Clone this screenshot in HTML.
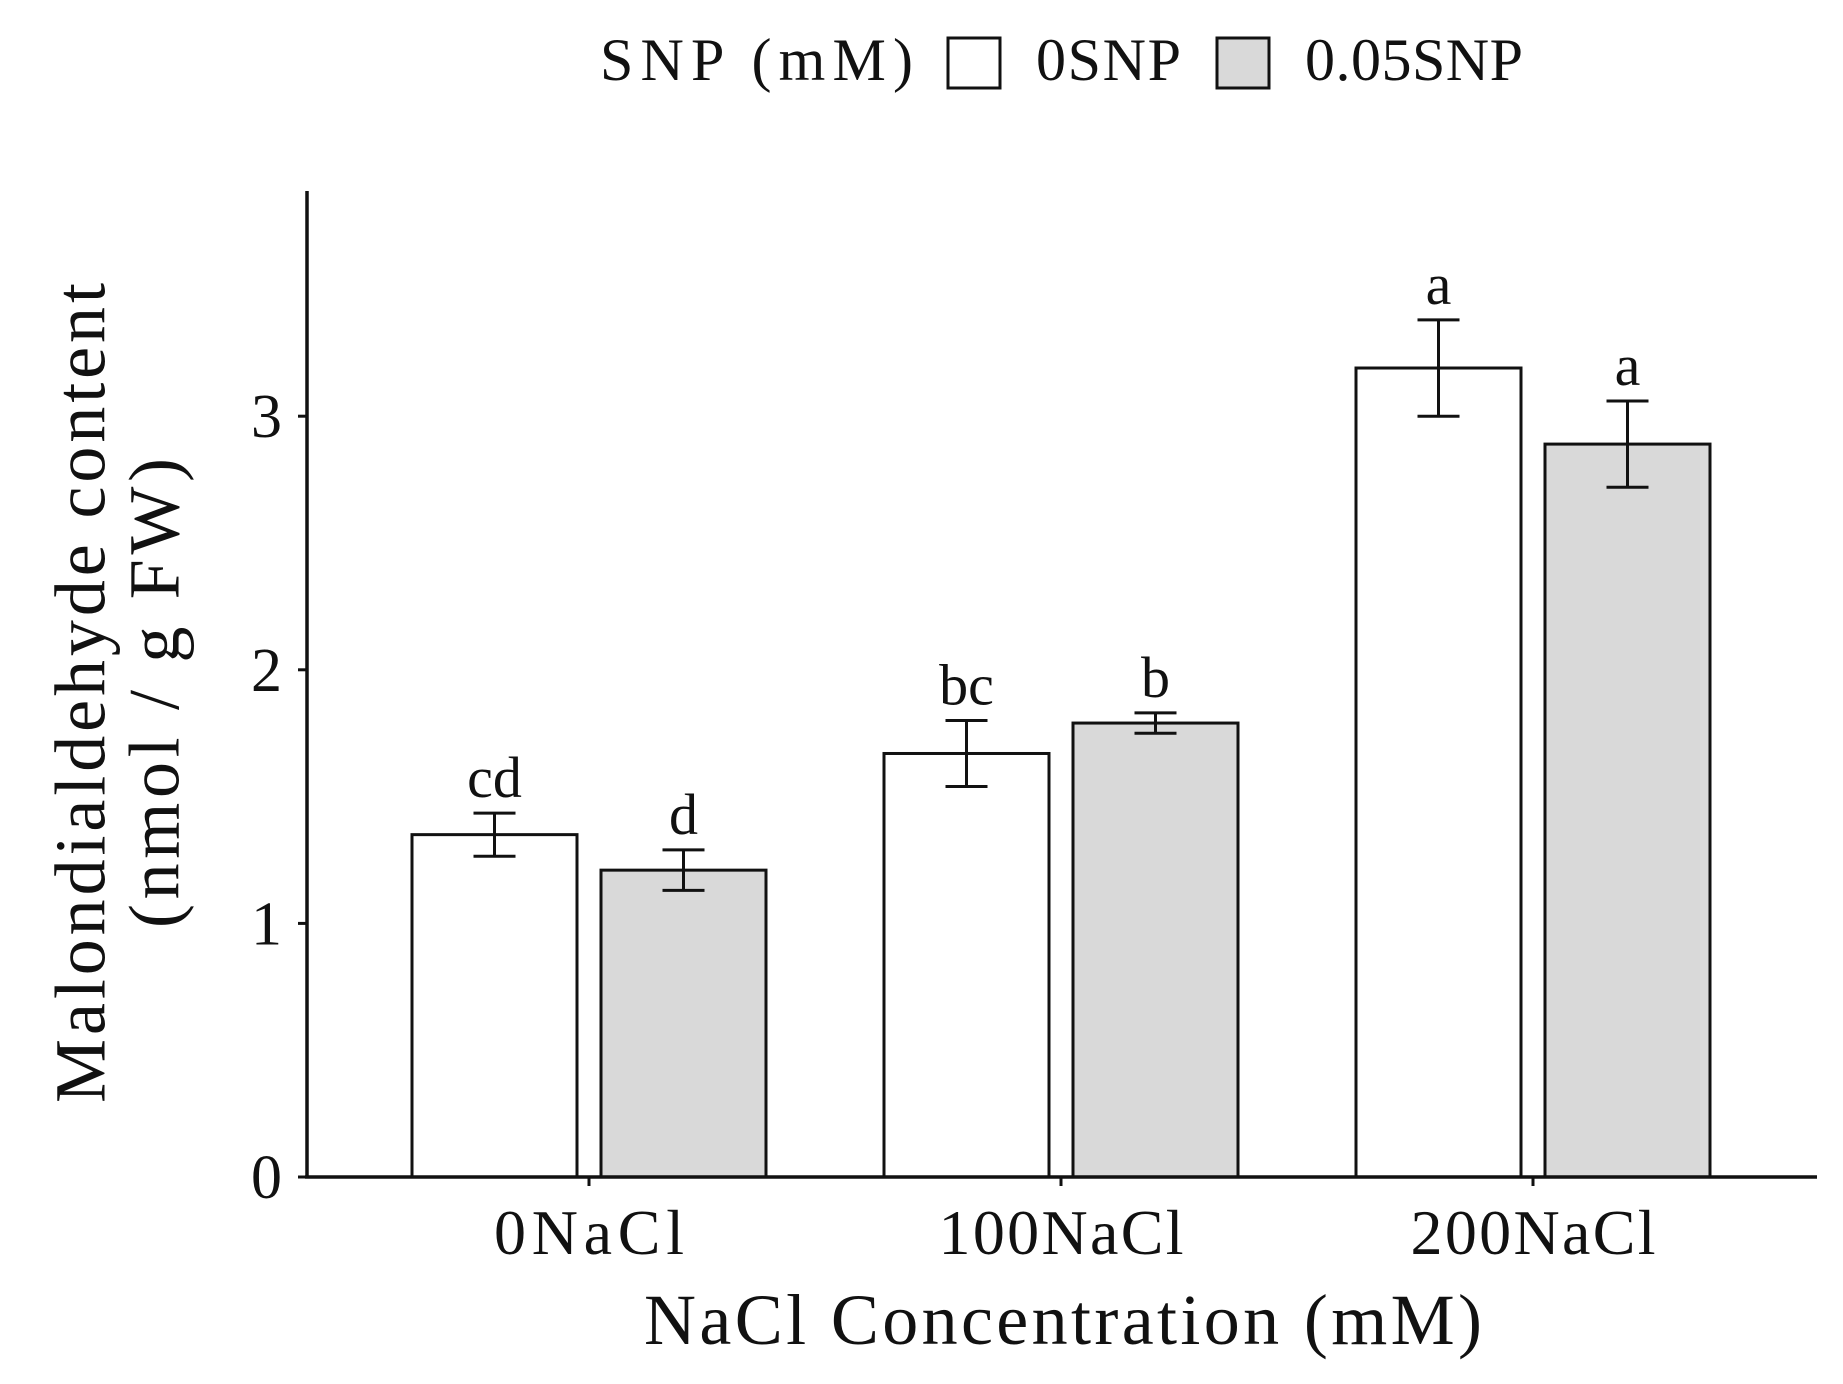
<!DOCTYPE html>
<html><head><meta charset="utf-8"><style>
html,body{margin:0;padding:0;background:#fff;}
svg text{font-family:"Liberation Serif",serif;fill:#111;}
</style></head><body>
<svg id="chart" width="1843" height="1379" viewBox="0 0 1843 1379" xmlns="http://www.w3.org/2000/svg">
<g>
<text x="600" y="80" font-size="60" textLength="313">SNP (mM)</text>
<rect x="948" y="38" width="52" height="50" fill="#fff" stroke="#111" stroke-width="3"/>
<text x="1036" y="80" font-size="60" textLength="145">0SNP</text>
<rect x="1217" y="38" width="52" height="50" fill="#d9d9d9" stroke="#111" stroke-width="3"/>
<text x="1305" y="80" font-size="60" textLength="218">0.05SNP</text>
</g>
<g id="plot"></g>
<text x="1063" y="1344" font-size="72" text-anchor="middle" textLength="838">NaCl Concentration (mM)</text>
<text transform="translate(88,693) rotate(-90)" font-size="72" text-anchor="middle" dominant-baseline="middle" textLength="820">Malondialdehyde content</text>
<text transform="translate(162,693) rotate(-90)" font-size="72" text-anchor="middle" dominant-baseline="middle" textLength="470">(nmol / g FW)</text>
</svg>
<script>
const categories = ["0NaCl","100NaCl","200NaCl"];
const seriesNames = ["0SNP","0.05SNP"];
const values0SNP = [1.35,1.67,3.19];
const values005SNP = [1.21,1.79,2.89];
const err0SNP = [0.085,0.13,0.19];
const err005SNP = [0.08,0.04,0.17];
const letters0SNP = ["cd","bc","a"];
const letters005SNP = ["d","b","a"];
const yTicks = [0,1,2,3];

const NS = "http://www.w3.org/2000/svg";
const g = document.getElementById("plot");
const x0 = 307, x1 = 1817, yBase = 1177, yTop = 191, perUnit = 253.6;
const y = v => yBase - v * perUnit;
const catX = i => 589 + i * 472;
const barW = 165, gap = 24;
function mk(tag, attrs){const e=document.createElementNS(NS,tag);for(const k in attrs)e.setAttribute(k,attrs[k]);g.appendChild(e);return e;}

const series = [
 {vals: values0SNP, err: err0SNP, let: letters0SNP, fill: "#fff", off: -gap/2 - barW},
 {vals: values005SNP, err: err005SNP, let: letters005SNP, fill: "#d9d9d9", off: gap/2}
];
series.forEach((s, si) => {
  categories.forEach((c, i) => {
    const bx = catX(i) + s.off;
    const r = mk("rect", {x: bx, y: y(s.vals[i]), width: barW, height: yBase - y(s.vals[i]), fill: s.fill, stroke: "#111", "stroke-width": 3});
    
    
    const cx = bx + barW / 2, hi = y(s.vals[i] + s.err[i]), lo = y(s.vals[i] - s.err[i]);
    const eb = mk("path", {d: `M${cx-21},${hi}H${cx+21}M${cx},${hi}V${lo}M${cx-21},${lo}H${cx+21}`, stroke: "#111", "stroke-width": 3, fill: "none"});
    
    
    const t = mk("text", {x: cx, y: hi - 16, "font-size": 58, "text-anchor": "middle"});
    t.textContent = s.let[i];
    
    
  });
});

const ax = mk("line", {x1: x0, y1: yTop, x2: x0, y2: yBase, stroke: "#111", "stroke-width": 3.5});


const bx = mk("line", {x1: x0 - 2, y1: yBase, x2: x1, y2: yBase, stroke: "#111", "stroke-width": 3.5});



yTicks.forEach(v => {
  const tk = mk("line", {x1: x0 - 9, y1: y(v), x2: x0, y2: y(v), stroke: "#111", "stroke-width": 3});
  
  
  const t = mk("text", {x: 282, y: y(v) + 21, "font-size": 62, "text-anchor": "end"});
  t.textContent = v;
  
  
});
const tickLabelLens = [190, 245, 245];
categories.forEach((c, i) => {
  const tk = mk("line", {x1: catX(i), y1: yBase, x2: catX(i), y2: yBase + 9, stroke: "#111", "stroke-width": 3});
  
  
  const t = mk("text", {x: catX(i), y: 1254, "font-size": 64, "text-anchor": "middle", textLength: tickLabelLens[i]});
  t.textContent = c;
  
  
});
</script>
</body></html>
